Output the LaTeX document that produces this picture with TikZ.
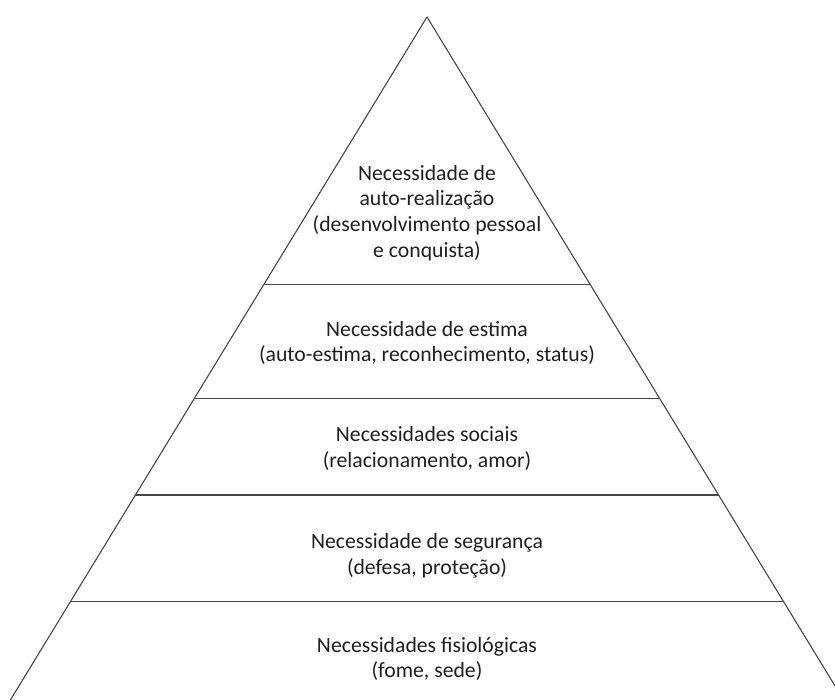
\documentclass[tikz,border=0pt]{standalone}
\usepackage{fontspec}
\setmainfont{Carlito}
\usetikzlibrary{calc}

\begin{document}
\begin{tikzpicture}[x=1pt, y=-1pt, line join=round,
		piramide/.style={line width=1.1pt, draw=black!72},
		nivel/.style={align=center, inner sep=0pt, font=\fontsize{21.7}{25.7}\selectfont, text=black!88}]
	% moldura da figura
	\useasboundingbox (0,0) rectangle (835,700);
	\clip (0,0) rectangle (835,700);
	
	% vertice e base da piramide
	\coordinate (topo) at (427,17);
	\coordinate (baseesq) at (10.4,700);
	\coordinate (basedir) at (843.6,700);
	\draw[piramide] (baseesq) -- (topo) -- (basedir);
	
	% divisoes entre os niveis
	\foreach \t in {0.3917, 0.5589, 0.6999, 0.8561}
		\draw[piramide] ($(topo)!\t!(baseesq)$) -- ($(topo)!\t!(basedir)$);
	
	% textos dos niveis
	\node[nivel] (autorealizacao) at (427,213) {Necessidade de\\auto-realização\\(desenvolvimento pessoal\\e conquista)};
	\node[nivel] (estima) at (427,343) {Necessidade de estima\\(auto-estima, reconhecimento, status)};
	\node[nivel] (sociais) at (427,448.5) {Necessidades sociais\\(relacionamento, amor)};
	\node[nivel] (seguranca) at (427,555.5) {Necessidade de segurança\\(defesa, proteção)};
	\node[nivel] (fisiologicas) at (427,659) {Necessidades fisiológicas\\(fome, sede)};
\end{tikzpicture}
\end{document}
